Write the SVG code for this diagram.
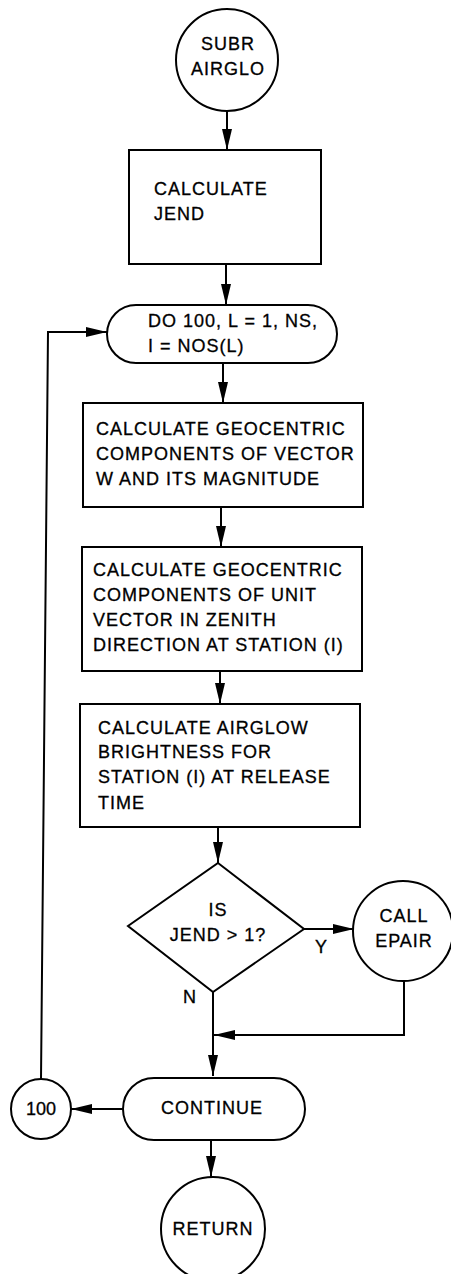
<svg xmlns="http://www.w3.org/2000/svg" width="451" height="1274" viewBox="0 0 451 1274">
<defs>
<style>
.s{fill:#fff;stroke:#000;stroke-width:2}
.c{fill:none;stroke:#000;stroke-width:2}
text{font-family:"Liberation Sans",Arial,sans-serif;font-size:18px;fill:#000;stroke:#000;stroke-width:0.3px;letter-spacing:1px}
.m{text-anchor:middle}
</style>
<marker id="a" markerUnits="userSpaceOnUse" markerWidth="22" markerHeight="10" refX="21" refY="5" orient="auto">
<path d="M0,0 L21,5 L0,10 z" fill="#000"/>
</marker>
</defs>
<g id="connectors">
<path class="c" d="M227,110 L227,150" marker-end="url(#a)"/>
<path class="c" d="M226,264 L226,305" marker-end="url(#a)"/>
<path class="c" d="M223,363 L223,403" marker-end="url(#a)"/>
<path class="c" d="M221,507 L221,547" marker-end="url(#a)"/>
<path class="c" d="M220,671 L220,704" marker-end="url(#a)"/>
<path class="c" d="M218,827 L218,863" marker-end="url(#a)"/>
<path class="c" d="M304,929 L354,929" marker-end="url(#a)"/>
<path class="c" d="M213,992 L213,1076" marker-end="url(#a)"/>
<path class="c" d="M404,981 L404,1035 L214,1035" marker-end="url(#a)"/>
<path class="c" d="M123,1109 L71,1109" marker-end="url(#a)"/>
<path class="c" d="M41,1079 L48,332 L107,332" marker-end="url(#a)"/>
<path class="c" d="M211,1139 L211,1177" marker-end="url(#a)"/>
<text x="315" y="953">Y</text>
<text x="183" y="1003">N</text>
</g>
<g id="start">
<circle class="s" cx="227" cy="60" r="51"/>
<text class="m" x="228" y="50">SUBR</text>
<text class="m" x="228" y="75">AIRGLO</text>
</g>
<g id="calcJend">
<rect class="s" x="129" y="150" width="192" height="114"/>
<text x="154" y="195">CALCULATE</text>
<text x="154" y="220">JEND</text>
</g>
<g id="doLoop">
<rect class="s" x="107" y="305" width="230" height="58" rx="29" ry="29"/>
<text x="148" y="327">DO 100, L = 1, NS,</text>
<text x="148" y="352">I = NOS(L)</text>
</g>
<g id="calcW">
<rect class="s" x="83" y="403" width="280" height="104"/>
<text x="96" y="435">CALCULATE GEOCENTRIC</text>
<text x="96" y="460">COMPONENTS OF VECTOR</text>
<text x="96" y="485">W AND ITS MAGNITUDE</text>
</g>
<g id="calcZenith">
<rect class="s" x="82" y="547" width="280" height="124"/>
<text x="93" y="576">CALCULATE GEOCENTRIC</text>
<text x="93" y="601">COMPONENTS OF UNIT</text>
<text x="93" y="626">VECTOR IN ZENITH</text>
<text x="93" y="651">DIRECTION AT STATION (I)</text>
</g>
<g id="calcAirglow">
<rect class="s" x="80" y="704" width="280" height="123"/>
<text x="98" y="734">CALCULATE AIRGLOW</text>
<text x="98" y="758">BRIGHTNESS FOR</text>
<text x="98" y="783">STATION (I) AT RELEASE</text>
<text x="98" y="809">TIME</text>
</g>
<g id="decision">
<polygon class="s" points="218,863 304,929 213,992 128,926"/>
<text class="m" x="218" y="916">IS</text>
<text class="m" x="218" y="941">JEND &gt; 1?</text>
</g>
<g id="epair">
<circle class="s" cx="403" cy="931" r="50"/>
<text class="m" x="404" y="922">CALL</text>
<text class="m" x="404" y="947">EPAIR</text>
</g>
<g id="continue">
<rect class="s" x="123" y="1078" width="182" height="62" rx="31" ry="31"/>
<text class="m" x="212" y="1114">CONTINUE</text>
</g>
<g id="label100">
<circle class="s" cx="41" cy="1109" r="30"/>
<text class="m" x="41" y="1115" style="letter-spacing:0">100</text>
</g>
<g id="return">
<circle class="s" cx="213" cy="1229" r="52"/>
<text class="m" x="213" y="1235">RETURN</text>
</g>
</svg>
